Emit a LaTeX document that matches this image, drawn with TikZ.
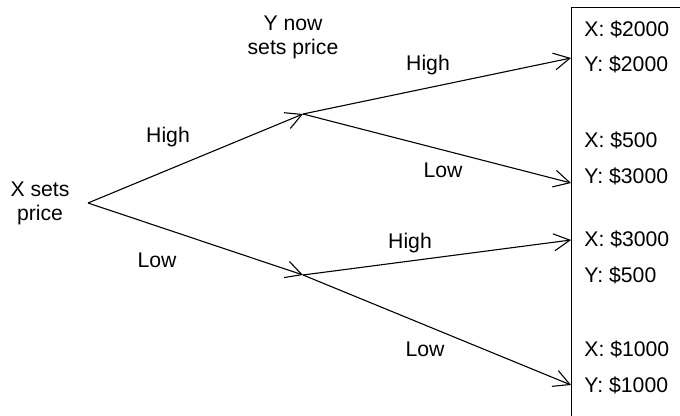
\documentclass[tikz,border=0pt]{standalone}
\usepackage{fontspec}
\setmainfont{Liberation Sans}
\usetikzlibrary{arrows.meta,positioning}

\begin{document}
\begin{tikzpicture}[
    x=0.5pt,y=-0.5pt,
    >={Straight Barb[length=8pt,width=8.5pt]},
    branch/.style={->,line width=0.55pt},
    lbl/.style={font=\fontsize{10.6}{12}\selectfont,inner sep=0pt,align=center},
    tag/.style={lbl,anchor=base},
    pay/.style={lbl,anchor=base west}
  ]
    \useasboundingbox (0,0) rectangle (680,416);
    \clip (0,0) rectangle (680,416);
    % decision points
    \coordinate (root) at (88,203);
    \coordinate (xhigh) at (303,114);
    \coordinate (xlow) at (303,275);
    % payoff box, running past the right and bottom edges
    \node[draw,line width=0.55pt,anchor=north west,inner sep=0pt,
          minimum width=80pt,minimum height=230pt] (box) at (571,7) {};
    \coordinate (hh) at (571,58);
    \coordinate (hl) at (571,183);
    \coordinate (lh) at (571,240);
    \coordinate (ll) at (571,385);
    % who moves
    \node[lbl] (xsets) at (40,203) {X sets\\price};
    \node[lbl] (ysets) at (293,37) {Y now\\sets price};
    % branches
    \draw[branch] (root) -- (xhigh);
    \draw[branch] (root) -- (xlow);
    \draw[branch] (xhigh) -- (hh);
    \draw[branch] (xhigh) -- (hl);
    \draw[branch] (xlow) -- (lh);
    \draw[branch] (xlow) -- (ll);
    \node[tag] (labxh) at (168,143) {High};
    \node[tag] (labxl) at (157,268) {Low};
    \node[tag] (labhh) at (428,71) {High};
    \node[tag] (labhl) at (443,178) {Low};
    \node[tag] (lablh) at (410,249) {High};
    \node[tag] (labll) at (425,357) {Low};
    % payoffs
    \foreach \px/\py/\yy [count=\i] in {2000/2000/36.5,500/3000/148,3000/500/247,1000/1000/357}{
      \node[pay] (px\i) at (584,\yy) {X: \$\px};
      \node[pay] (py\i) at (584,\yy+35.5) {Y: \$\py};
    }
  \end{tikzpicture}
\end{document}
